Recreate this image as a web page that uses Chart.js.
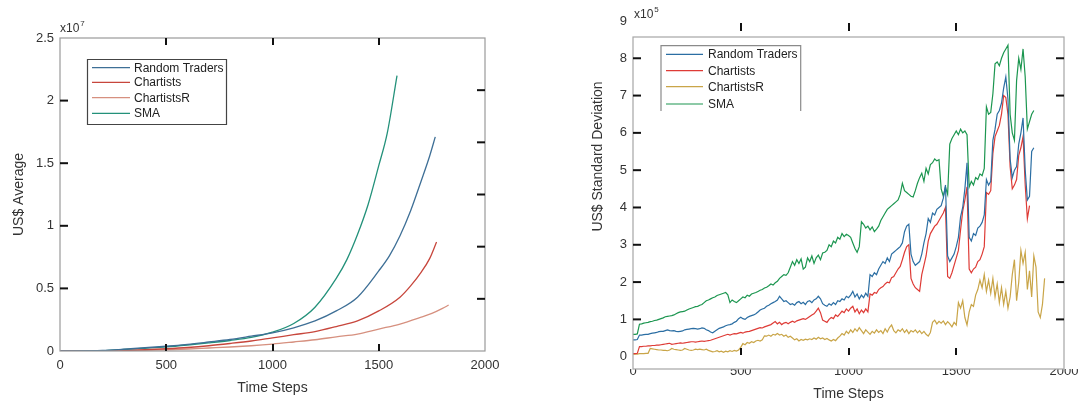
<!DOCTYPE html>
<html><head><meta charset="utf-8">
<script src="https://cdn.jsdelivr.net/npm/chart.js@4/dist/chart.umd.min.js"></script>
<style>
html,body{margin:0;padding:0;background:#fff;}
#wrap{position:relative;width:1083px;height:403px;overflow:hidden;background:#fff;}
canvas{position:absolute;top:0;}
#c1{left:0;} #c2{left:541px;}
</style></head><body>
<div id="wrap"><canvas id="c1" width="541" height="403"></canvas><canvas id="c2" width="542" height="403"></canvas></div>
<script>
// ---------- shared ----------
const seriesNames = ['Random Traders', 'Chartists', 'ChartistsR', 'SMA'];
const xTickLabels = [0, 500, 1000, 1500, 2000];

// ---------- left chart: US$ Average (values in units of 10^7) ----------
const avgYTicks = [0, 0.5, 1, 1.5, 2, 2.5];
const avgStepsRT  = [0,200,300,400,500,600,700,800,900,1000,1100,1200,1300,1400,1500,1550,1600,1650,1700,1740,1766];
const avgRT       = [0,0.004,0.014,0.026,0.038,0.053,0.072,0.092,0.118,0.145,0.185,0.24,0.32,0.43,0.64,0.76,0.92,1.12,1.36,1.56,1.71];
const avgStepsCh  = [0,100,200,250,300,400,500,600,700,800,900,1000,1100,1200,1300,1400,1500,1600,1650,1700,1740,1772];
const avgCh       = [0,-0.002,-0.004,0,0.003,0.01,0.018,0.028,0.042,0.06,0.08,0.105,0.13,0.155,0.195,0.24,0.32,0.43,0.52,0.63,0.74,0.87];
const avgStepsChR = [0,200,300,400,500,600,700,800,900,1000,1100,1200,1300,1400,1500,1600,1700,1750,1800,1829];
const avgChR      = [0,0,0.002,0.006,0.01,0.016,0.024,0.032,0.042,0.055,0.072,0.09,0.113,0.135,0.175,0.215,0.27,0.30,0.34,0.367];
const avgStepsSMA = [0,200,300,400,500,600,700,800,900,1000,1100,1200,1300,1350,1400,1450,1500,1540,1586];
const avgSMA      = [0,0.002,0.012,0.022,0.033,0.048,0.065,0.084,0.108,0.15,0.22,0.35,0.58,0.73,0.93,1.17,1.48,1.74,2.20];

// ---------- right chart: US$ Standard Deviation (values in units of 10^5), one value every 10 steps ----------
const sdStep = 10;
const sdYTicks = [0,1,2,3,4,5,6,7,8,9];
const sdRT = [
0.45,0.45,0.46,0.58,0.58,0.59,0.60,0.60,0.62,0.63,
0.64,0.65,0.67,0.68,0.68,0.70,0.72,0.70,0.69,0.70,
0.68,0.67,0.68,0.69,0.72,0.73,0.74,0.75,0.76,0.75,
0.74,0.75,0.77,0.76,0.72,0.70,0.66,0.64,0.68,0.72,
0.76,0.78,0.80,0.83,0.85,0.86,0.88,0.92,0.95,1.02,
1.06,1.02,1.00,1.05,1.08,1.10,1.12,1.15,1.20,1.25,
1.28,1.30,1.35,1.38,1.42,1.45,1.48,1.52,1.62,1.55,
1.48,1.50,1.45,1.40,1.42,1.38,1.45,1.48,1.42,1.46,
1.40,1.48,1.50,1.45,1.52,1.55,1.62,1.55,1.42,1.38,
1.35,1.42,1.38,1.45,1.40,1.50,1.48,1.55,1.52,1.62,
1.58,1.65,1.75,1.60,1.68,1.55,1.65,1.58,1.70,1.62,
2.20,2.15,2.25,2.20,2.35,2.45,2.55,2.50,2.65,2.55,
2.75,2.80,2.85,2.90,2.95,3.05,3.35,3.50,3.55,2.75,
2.55,2.45,2.50,2.55,2.75,3.05,3.30,3.70,3.60,3.85,
3.80,3.95,4.00,4.05,4.25,4.60,2.70,2.55,2.65,2.75,
2.95,3.20,3.75,4.00,4.50,5.20,3.20,3.10,3.30,3.25,
3.45,3.50,3.60,3.80,4.75,4.60,4.70,5.80,6.10,6.50,
6.60,6.80,7.20,7.50,6.90,5.30,4.80,5.00,5.10,5.70,
6.00,6.40,5.00,4.20,4.30,5.50,5.60];
const sdCh = [
0.08,0.08,0.09,0.27,0.27,0.28,0.28,0.29,0.29,0.30,
0.30,0.31,0.31,0.32,0.33,0.34,0.35,0.36,0.33,0.34,
0.35,0.36,0.37,0.36,0.37,0.38,0.39,0.40,0.40,0.39,
0.40,0.41,0.42,0.41,0.42,0.43,0.44,0.46,0.48,0.50,
0.52,0.54,0.56,0.58,0.60,0.58,0.60,0.62,0.61,0.63,
0.65,0.63,0.66,0.67,0.68,0.70,0.72,0.74,0.76,0.78,
0.77,0.80,0.82,0.84,0.86,0.90,0.94,0.88,0.92,0.86,
0.90,0.92,0.88,0.92,0.95,0.92,0.96,0.98,1.00,1.02,
1.00,1.04,1.08,1.12,1.15,1.22,1.30,1.18,0.98,0.95,
0.92,1.00,1.05,1.02,1.12,1.08,1.15,1.22,1.18,1.28,
1.22,1.30,1.35,1.20,1.28,1.15,1.25,1.18,1.28,1.20,
1.68,1.65,1.72,1.70,1.80,1.85,1.88,1.95,2.00,1.98,
2.12,2.15,2.25,2.35,2.42,2.60,2.80,2.95,3.00,2.10,
1.95,1.85,1.80,1.75,2.20,2.45,2.70,3.10,3.30,3.40,
3.50,3.55,3.65,3.75,3.85,4.00,2.15,2.10,2.25,2.45,
2.65,2.85,3.40,3.90,4.20,4.55,2.35,2.25,2.35,2.40,
2.55,2.60,2.75,2.95,4.40,4.35,4.45,5.45,5.90,6.05,
6.20,6.50,7.00,6.95,6.50,5.10,4.50,4.60,4.75,5.40,
5.60,5.90,4.60,3.70,4.05];
const sdChR = [
0.07,0.07,0.07,0.08,0.08,0.08,0.09,0.09,0.22,0.21,
0.20,0.19,0.18,0.18,0.17,0.17,0.16,0.18,0.22,0.20,
0.19,0.18,0.17,0.18,0.22,0.20,0.18,0.17,0.18,0.20,
0.19,0.20,0.19,0.18,0.20,0.17,0.15,0.13,0.14,0.16,
0.13,0.15,0.12,0.15,0.13,0.16,0.14,0.17,0.15,0.18,
0.25,0.35,0.32,0.38,0.36,0.40,0.38,0.42,0.44,0.42,
0.45,0.56,0.55,0.58,0.55,0.60,0.58,0.62,0.58,0.60,
0.55,0.58,0.52,0.55,0.50,0.45,0.48,0.42,0.46,0.44,
0.47,0.45,0.48,0.46,0.50,0.47,0.52,0.48,0.50,0.46,
0.49,0.45,0.42,0.46,0.43,0.50,0.55,0.62,0.58,0.68,
0.62,0.72,0.65,0.75,0.68,0.78,0.70,0.62,0.72,0.66,
0.60,0.68,0.63,0.72,0.65,0.70,0.62,0.75,0.66,0.78,
0.85,0.70,0.64,0.72,0.68,0.75,0.65,0.72,0.62,0.70,
0.66,0.72,0.64,0.70,0.62,0.68,0.60,0.55,0.65,0.92,
0.98,0.88,0.95,0.90,0.96,0.86,0.94,0.88,0.80,0.92,
0.85,1.45,1.30,1.50,1.05,0.85,1.20,1.40,1.35,1.65,
1.80,2.05,1.85,2.20,1.75,2.05,1.70,2.10,1.60,1.95,
1.45,1.85,1.40,1.75,1.30,1.60,2.20,2.60,1.50,2.00,
2.85,2.50,2.80,1.80,2.30,1.60,2.70,2.40,1.20,1.05,
1.40,2.10];
const sdSMA = [
0.60,0.60,0.61,0.87,0.88,0.90,0.91,0.92,0.94,0.95,
0.97,0.98,1.00,1.02,1.04,1.07,1.08,1.09,1.10,1.12,
1.15,1.18,1.20,1.21,1.22,1.25,1.28,1.30,1.32,1.34,
1.35,1.38,1.40,1.45,1.50,1.52,1.55,1.58,1.60,1.64,
1.66,1.68,1.70,1.72,1.66,1.45,1.52,1.48,1.45,1.50,
1.55,1.60,1.58,1.65,1.62,1.68,1.70,1.72,1.75,1.78,
1.80,1.84,1.86,1.90,1.95,1.92,1.98,2.02,2.10,2.15,
2.20,2.18,2.25,2.40,2.55,2.45,2.60,2.50,2.62,2.35,
2.40,2.65,2.55,2.70,2.50,2.65,2.72,2.60,2.78,2.80,
2.85,3.00,2.95,3.10,3.05,3.20,3.15,3.30,3.22,3.28,
3.25,3.20,3.05,2.90,2.80,2.95,3.62,3.55,3.45,3.50,
3.40,3.48,3.35,3.42,3.50,3.65,3.75,3.85,3.95,4.00,
4.05,4.10,4.15,4.20,4.35,4.65,4.45,4.40,4.35,4.30,
4.28,4.45,4.65,4.80,4.92,4.70,5.05,4.90,5.15,5.20,
5.30,5.25,5.28,4.50,4.30,4.55,4.35,5.70,5.85,5.95,
6.05,5.95,6.10,6.00,6.05,5.95,4.55,4.70,4.60,4.80,
4.75,4.90,4.85,5.05,6.70,6.50,6.55,7.05,7.85,7.90,
7.80,8.00,8.15,8.25,8.35,6.50,6.00,5.80,7.40,8.00,
7.70,8.25,7.50,6.10,6.30,6.50,6.60];

// ---------- helpers ----------
const FONT = '"Liberation Sans", Arial, sans-serif';
const pair = (xs, ys) => ys.map((y, i) => ({x: xs[i], y}));
const stepPair = (ys) => ys.map((y, i) => ({x: i * sdStep, y}));

function decor(cfg) {
  return {
    id: 'decor' + cfg.id,
    afterDraw(chart) {
      const ctx = chart.ctx, a = chart.chartArea, xs = chart.scales.x, ys = chart.scales.y;
      ctx.save();
      // frame
      ctx.strokeStyle = cfg.frameColor; ctx.lineWidth = 1.2;
      ctx.strokeRect(a.left, a.top, a.right - a.left, a.bottom - a.top);
      // tick marks
      ctx.strokeStyle = '#111'; ctx.lineWidth = 2;
      const seg = (x1, y1, x2, y2) => { ctx.beginPath(); ctx.moveTo(x1, y1); ctx.lineTo(x2, y2); ctx.stroke(); };
      cfg.xMarks.forEach(v => {
        const px = Math.round(xs.getPixelForValue(v));
        seg(px, cfg.topMark[0], px, cfg.topMark[1]);
        seg(px, cfg.botMark[0], px, cfg.botMark[1]);
      });
      cfg.leftMarks.forEach(v => { const py = ys.getPixelForValue(v); seg(a.left, py, a.left + 8, py); });
      cfg.rightMarks.forEach(v => { const py = ys.getPixelForValue(v); seg(a.right - 8, py, a.right, py); });
      // exponent label
      ctx.fillStyle = '#333'; ctx.textBaseline = 'middle'; ctx.textAlign = 'left';
      ctx.font = '12px ' + FONT;
      ctx.fillText('x10', cfg.exp.x, cfg.exp.y);
      const w = ctx.measureText('x10').width;
      ctx.font = '8px ' + FONT;
      ctx.fillText(cfg.exp.power, cfg.exp.x + w + 1, cfg.exp.y - 5);
      // rotated y title if drawn here
      if (cfg.yTitle) {
        ctx.save();
        ctx.translate(cfg.yTitle.x, cfg.yTitle.y); ctx.rotate(-Math.PI / 2);
        ctx.font = '14px ' + FONT; ctx.textAlign = 'center'; ctx.fillStyle = '#333';
        ctx.fillText(cfg.yTitle.text, 0, 0);
        ctx.restore();
      }
      // legend
      const L = cfg.legend;
      ctx.fillStyle = '#fff';
      ctx.fillRect(L.x, L.y, L.w, L.h);
      ctx.strokeStyle = L.border; ctx.lineWidth = 1.2;
      ctx.beginPath();
      if (L.open) { ctx.moveTo(L.x, L.y + L.h); ctx.lineTo(L.x, L.y); ctx.lineTo(L.x + L.w, L.y); ctx.lineTo(L.x + L.w, L.y + L.h); }
      else { ctx.rect(L.x, L.y, L.w, L.h); }
      ctx.stroke();
      ctx.font = '12px ' + FONT; ctx.textAlign = 'left'; ctx.textBaseline = 'middle';
      chart.data.datasets.forEach((ds, i) => {
        const y = L.rows[i];
        ctx.strokeStyle = ds.borderColor; ctx.lineWidth = 1.2;
        seg(L.l1, y, L.l2, y);
        ctx.fillStyle = '#222';
        ctx.fillText(ds.label, L.tx, y + 0.5);
      });
      ctx.restore();
    }
  };
}

const baseTickFont = {family: FONT, size: 13};
const titleFont = {family: FONT, size: 14};

// ---------- left chart ----------
const leftColors = ['#3e6f96', '#c7463c', '#d6907f', '#23917a'];
new Chart(document.getElementById('c1'), {
  type: 'line',
  data: {
    datasets: [
      {label: seriesNames[0], data: pair(avgStepsRT, avgRT)},
      {label: seriesNames[1], data: pair(avgStepsCh, avgCh)},
      {label: seriesNames[2], data: pair(avgStepsChR, avgChR)},
      {label: seriesNames[3], data: pair(avgStepsSMA, avgSMA)}
    ].map((d, i) => Object.assign(d, {borderColor: leftColors[i], borderWidth: 1.3, pointRadius: 0, fill: false, cubicInterpolationMode: 'monotone'}))
  },
  options: {
    responsive: false, animation: false, devicePixelRatio: 1,
    layout: {padding: {top: 38, right: 56, left: 0, bottom: 0}},
    plugins: {legend: {display: false}, tooltip: {enabled: false}},
    scales: {
      x: {
        type: 'linear', min: 0, max: 2000,
        afterBuildTicks: s => { s.ticks = xTickLabels.map(v => ({value: v})); },
        afterFit: s => { s.height = 52; },
        grid: {display: false, drawTicks: false, tickLength: 0},
        border: {display: false},
        ticks: {font: baseTickFont, color: '#333', padding: 7, maxRotation: 0, autoSkip: false, callback: v => String(v)},
        title: {display: true, text: 'Time Steps', font: titleFont, color: '#333', padding: {top: 0, bottom: 6.6}}
      },
      y: {
        type: 'linear', min: 0, max: 2.5,
        afterBuildTicks: s => { s.ticks = avgYTicks.map(v => ({value: v})); },
        afterFit: s => { s.width = 60; },
        grid: {display: false, drawTicks: false, tickLength: 0},
        border: {display: false},
        ticks: {font: baseTickFont, color: '#333', padding: 6, autoSkip: false, callback: v => String(v)},
        title: {display: true, text: 'US$ Average', font: titleFont, color: '#333', padding: {top: 10.6, bottom: 0}}
      }
    }
  },
  plugins: [decor({
    id: 'L', frameColor: '#9a9a9a',
    xMarks: [500, 1000, 1500], topMark: [38, 45], botMark: [344, 351],
    leftMarks: [0.5, 1, 1.5, 2], rightMarks: [1, 2, 3, 4, 5].map(k => k * 2.5 / 6),
    exp: {x: 60, y: 29, power: '7'},
    legend: {x: 87.5, y: 59.5, w: 139, h: 65, border: '#444', open: false, l1: 92, l2: 130, tx: 134, rows: [67.7, 82.3, 97.7, 113.3]}
  })]
});

// ---------- right chart ----------
const rightColors = ['#2b6ea3', '#de3b36', '#c9a548', '#1c9650'];
new Chart(document.getElementById('c2'), {
  type: 'line',
  data: {
    datasets: [
      {label: seriesNames[0], data: stepPair(sdRT)},
      {label: seriesNames[1], data: stepPair(sdCh)},
      {label: seriesNames[2], data: stepPair(sdChR)},
      {label: seriesNames[3], data: stepPair(sdSMA)}
    ].map((d, i) => Object.assign(d, {borderColor: rightColors[i], borderWidth: 1.2, pointRadius: 0, fill: false, tension: 0}))
  },
  options: {
    responsive: false, animation: false, devicePixelRatio: 1,
    layout: {padding: {top: 37, right: 19, left: 0, bottom: 0}},
    plugins: {legend: {display: false}, tooltip: {enabled: false}},
    scales: {
      x: {
        type: 'linear', min: 0, max: 2000,
        afterBuildTicks: s => { s.ticks = xTickLabels.map(v => ({value: v})); },
        afterFit: s => { s.height = 34; },
        grid: {display: false, drawTicks: false, tickLength: 0},
        border: {display: false},
        ticks: {font: baseTickFont, color: '#333', padding: -5, maxRotation: 0, autoSkip: false, callback: v => String(v)},
        title: {display: true, text: 'Time Steps', font: titleFont, color: '#333', padding: {top: 0, bottom: 0}}
      },
      y: {
        type: 'linear', min: -0.33, max: 8.57,
        afterBuildTicks: s => { s.ticks = sdYTicks.map(v => ({value: v})); },
        afterFit: s => { s.width = 92; },
        grid: {display: false, drawTicks: false, tickLength: 0},
        border: {display: false},
        ticks: {font: baseTickFont, color: '#333', padding: 6, autoSkip: false, callback: v => String(v)},
        title: {display: false}
      }
    }
  },
  plugins: [decor({
    id: 'R', frameColor: '#a6a6a6',
    xMarks: [500, 1000, 1500], topMark: [23, 31], botMark: [348, 355],
    leftMarks: [1, 2, 3, 4, 5, 6, 7, 8], rightMarks: [1, 2, 3, 4, 5, 6, 7, 8],
    exp: {x: 93, y: 15, power: '5'},
    yTitle: {x: 56.7, y: 156.5, text: 'US$ Standard Deviation'},
    legend: {x: 120, y: 45.7, w: 139.7, h: 65.3, border: '#8a8a8a', open: true, l1: 125, l2: 162, tx: 167, rows: [54.3, 70.7, 86.7, 104]}
  })]
});
</script>
</body></html>
